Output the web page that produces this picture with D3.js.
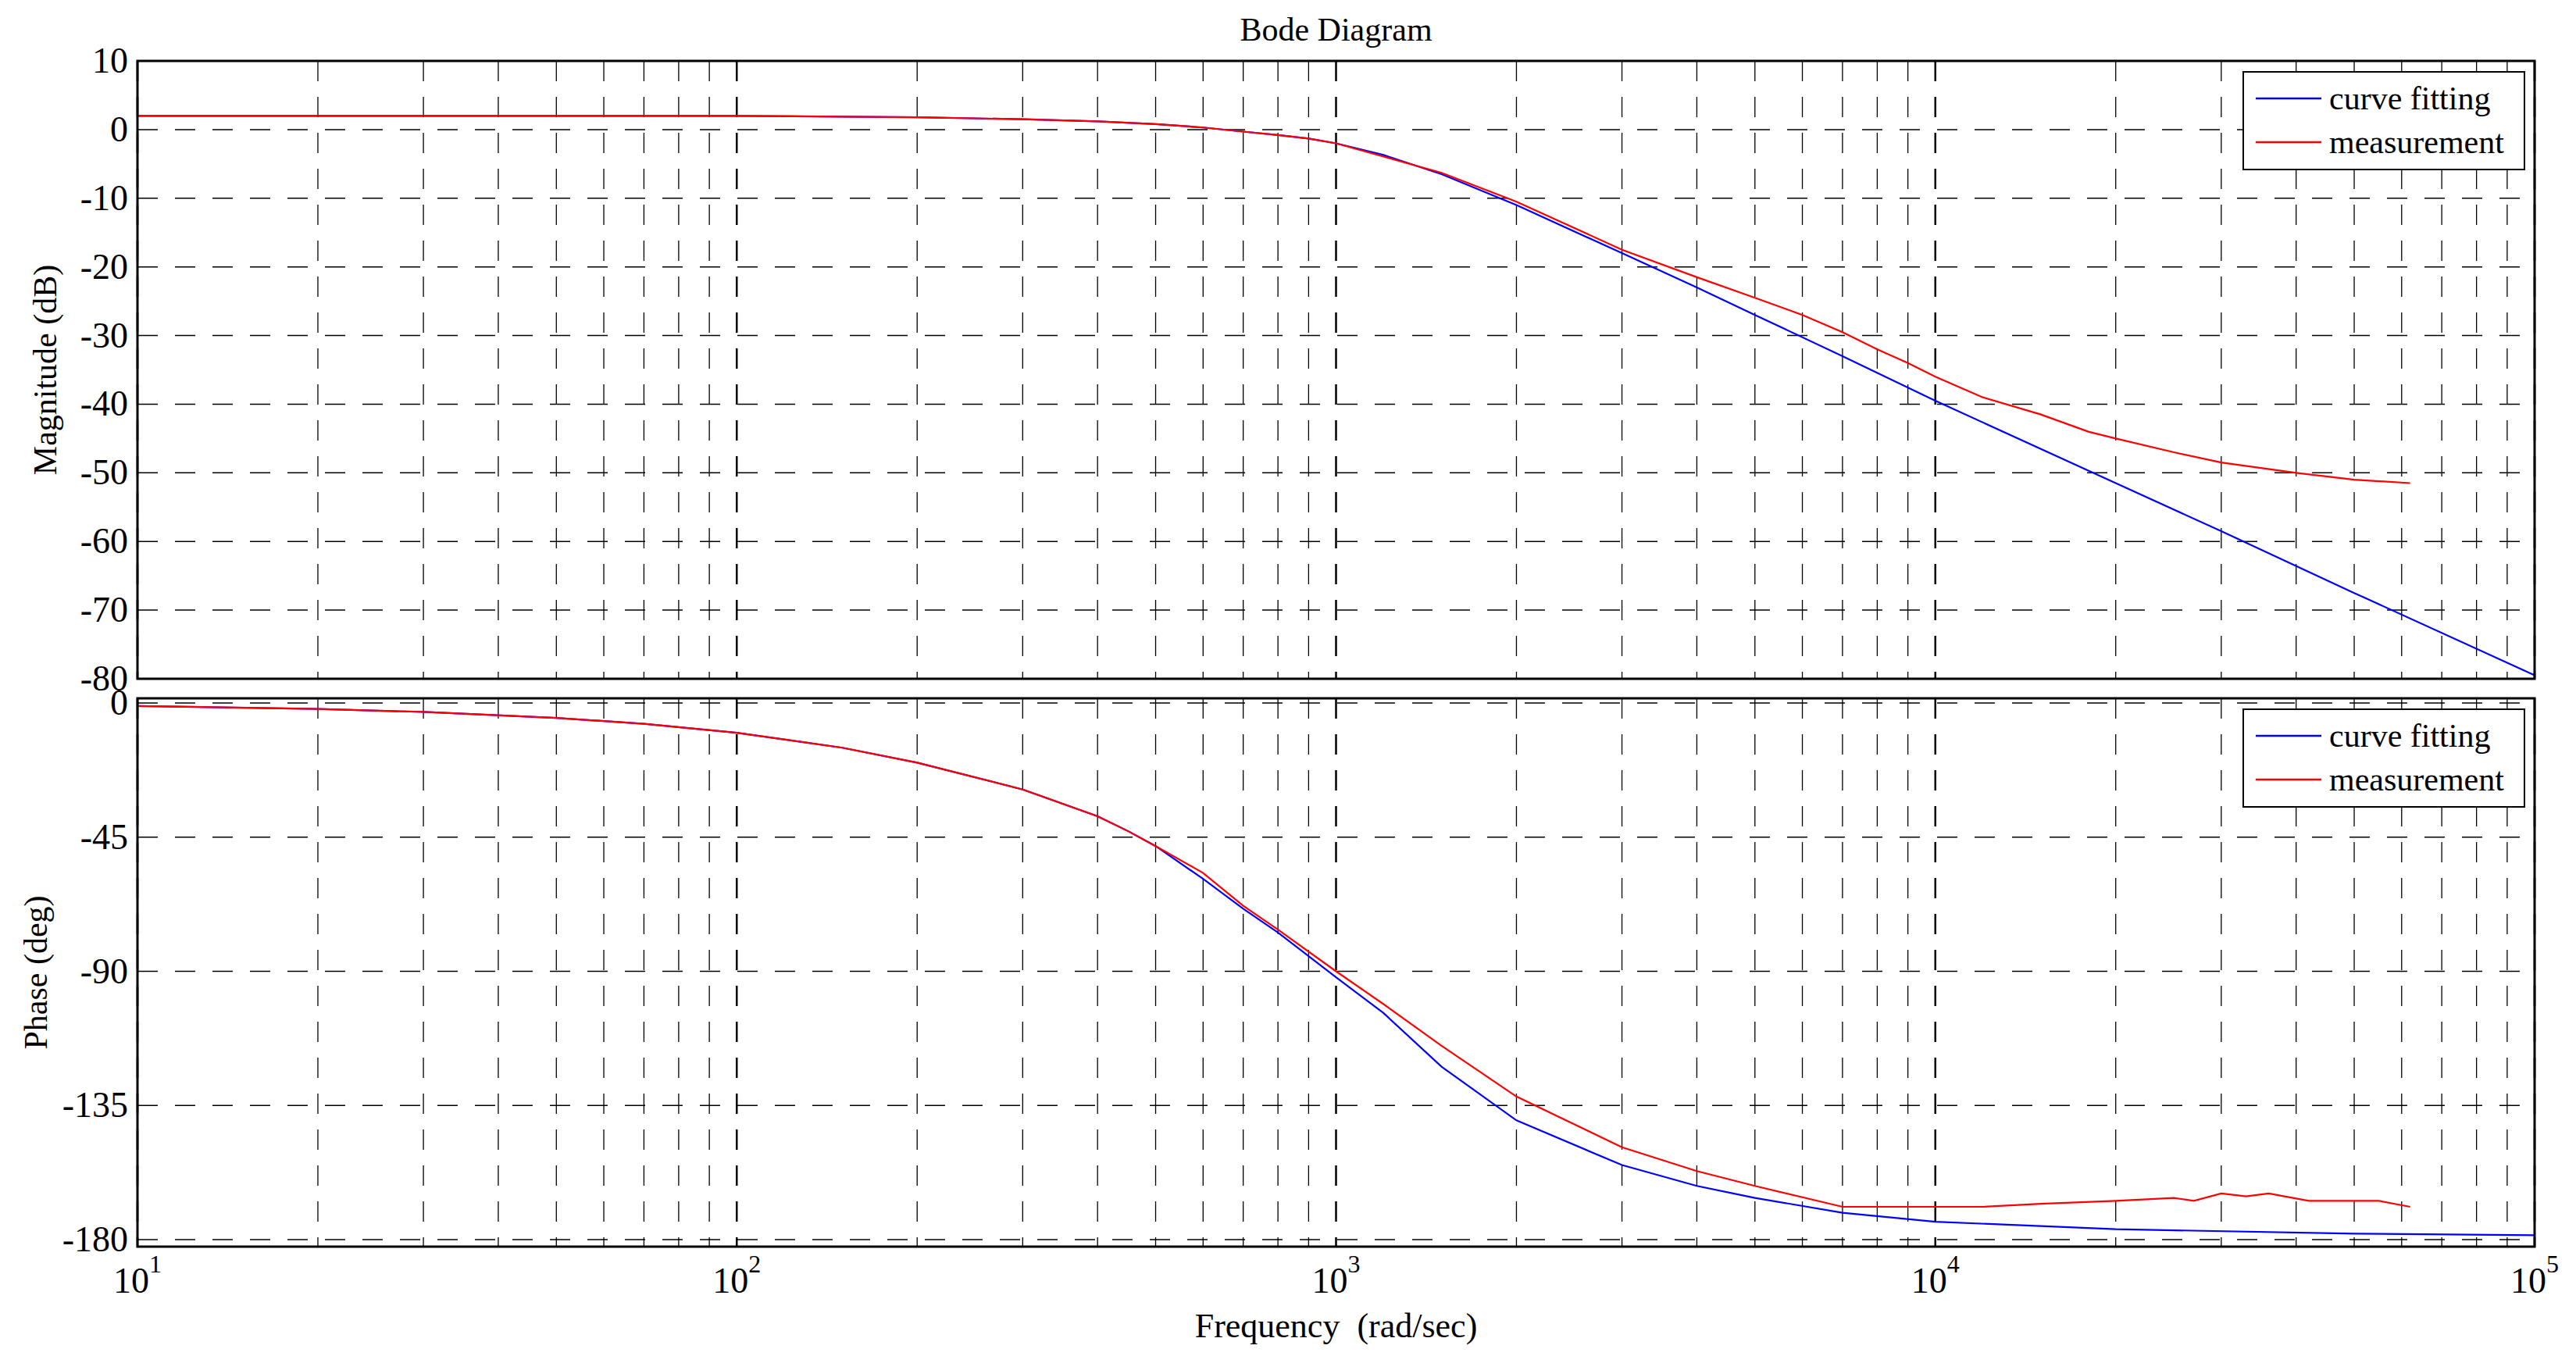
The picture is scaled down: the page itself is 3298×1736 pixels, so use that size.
<!DOCTYPE html>
<html><head><meta charset="utf-8">
<script src="https://cdn.jsdelivr.net/npm/d3@7"></script>
<style>body{margin:0;background:#fff}svg{font-family:"Liberation Serif","Times New Roman",serif}</style>
</head><body>
<svg id="c" width="3298" height="1736"></svg>
<script>
const magFitF=[10,100,200,300,400,500,600,700,800,900,1000,1200,1500,2000,3000,4000,5000,7000,10000,20000,30000,50000,100000];
const magFitV=[2,2,1.8,1.5,1.2,0.8,0.3,-0.3,-0.8,-1.3,-2,-3.7,-6.5,-11,-18,-23,-27,-33,-39.5,-51.5,-58.5,-67.5,-79.5];
const magMeasF=[10,100,200,300,400,500,600,700,800,900,1000,1500,2000,3000,4000,5000,6000,7000,8000,9000,10000,12000,15000,18000,20000,25000,30000,40000,50000,62000];
const magMeasV=[2,2,1.8,1.5,1.2,0.8,0.3,-0.3,-0.8,-1.3,-2,-6.3,-10.5,-17.5,-21.5,-24.5,-27,-29.5,-32,-34,-36,-39,-41.5,-44,-45,-47,-48.5,-50,-51,-51.5];
const phFitF=[10,20,30,50,70,100,150,200,300,400,450,500,600,700,800,1000,1200,1500,2000,3000,4000,5000,7000,10000,20000,50000,100000];
const phFitV=[-1,-2,-3,-5,-7,-10,-15,-20,-29,-38,-43,-48,-59,-69,-77,-92,-104,-122,-140,-155,-162,-166,-171,-174,-176.5,-178,-178.5];
const phMeasF=[10,20,30,50,70,100,150,200,300,400,450,500,600,700,800,1000,1200,1500,2000,3000,4000,5000,7000,10000,12000,15000,20000,25000,27000,30000,33000,36000,42000,50000,55000,62000];
const phMeasV=[-1,-2,-3,-5,-7,-10,-15,-20,-29,-38,-43,-48,-57,-68,-76,-90,-101,-115,-132,-149,-157,-162,-169,-169,-169,-168,-167,-166,-167,-164.5,-165.5,-164.5,-167,-167,-167,-169];
const magTicks=[10,0,-10,-20,-30,-40,-50,-60,-70,-80];
const phTicks=[0,-45,-90,-135,-180];
const decades=[1,2,3,4,5];
const seriesNames=["curve fitting","measurement"];
const colors=["#0000ff","#ff0000"];

const svg=d3.select("#c");
const L=176,R=3245;
const x=d3.scaleLog().domain([10,1e5]).range([L,R]);
const yM=d3.scaleLinear().domain([10,-80]).range([78,869]);
const yP=d3.scaleLinear().domain([0,-180]).range([900,1587]);
const panels=[{y:yM,top:78,bot:869,ticks:magTicks,label:"Magnitude (dB)",data:[[magFitF,magFitV],[magMeasF,magMeasV]]},
 {y:yP,top:894,bot:1596,ticks:phTicks,label:"Phase (deg)",data:[[phFitF,phFitV],[phMeasF,phMeasV]]}];
const minors=[];for(let d=1;d<5;d++)for(let k=2;k<=9;k++)minors.push(k*Math.pow(10,d));
panels.forEach((p,pi)=>{
  const g=svg.append("g");
  g.selectAll(".mn").data(minors).enter().append("line").attr("x1",d=>x(d)).attr("x2",d=>x(d)).attr("y1",p.top).attr("y2",p.bot)
   .attr("stroke","#000").attr("stroke-width",1.3).attr("stroke-dasharray","26,20");
  g.selectAll(".mj").data(decades.map(d=>Math.pow(10,d))).enter().append("line").attr("x1",d=>x(d)).attr("x2",d=>x(d)).attr("y1",p.top).attr("y2",p.bot)
   .attr("stroke","#000").attr("stroke-width",2.5).attr("stroke-dasharray","26,20");
  g.selectAll(".hg").data(p.ticks).enter().append("line").attr("x1",L).attr("x2",R).attr("y1",d=>p.y(d)).attr("y2",d=>p.y(d))
   .attr("stroke","#000").attr("stroke-width",1.5).attr("stroke-dasharray","26,22");
  // ticks on axes
  g.selectAll(".tk").data(p.ticks).enter().append("text").attr("x",L-12).attr("y",d=>p.y(d)+15).attr("text-anchor","end")
   .attr("font-size",46).text(d=>d);
  const line=d3.line().x(d=>x(d[0])).y(d=>p.y(d[1]));
  p.data.forEach((s,i)=>{
    g.append("path").datum(s[0].map((f,j)=>[f,s[1][j]])).attr("d",line).attr("fill","none").attr("stroke",colors[i]).attr("stroke-width",2.2);
  });
  g.append("rect").attr("x",L).attr("y",p.top).attr("width",R-L).attr("height",p.bot-p.top).attr("fill","none").attr("stroke","#000").attr("stroke-width",3);
  g.append("text").attr("transform",`translate(${pi==0?72:60},${(p.top+p.bot)/2}) rotate(-90)`).attr("text-anchor","middle").attr("font-size",42).text(p.label);
  // legend
  const lx=2872,ly=p.top+14;
  g.append("rect").attr("x",lx).attr("y",ly).attr("width",360).attr("height",125).attr("fill","#fff").attr("stroke","#000").attr("stroke-width",2);
  seriesNames.forEach((n,i)=>{
    const yy=ly+34+i*56;
    g.append("line").attr("x1",lx+16).attr("x2",lx+100).attr("y1",yy).attr("y2",yy).attr("stroke",colors[i]).attr("stroke-width",2.5);
    g.append("text").attr("x",lx+110).attr("y",yy+14).attr("font-size",42).text(n);
  });
});
// x tick labels
decades.concat([]).forEach(()=>{});
const xt=[1,2,3,4,5];
xt.forEach(d=>{
  const t=svg.append("text").attr("x",x(Math.pow(10,d))).attr("y",1655).attr("text-anchor","middle").attr("font-size",46);
  t.append("tspan").text("10");
  t.append("tspan").attr("dy",-26).attr("font-size",32).text(d);
});
svg.append("text").attr("x",(L+R)/2).attr("y",1712).attr("text-anchor","middle").attr("font-size",44).attr("xml:space","preserve").text("Frequency  (rad/sec)");
svg.append("text").attr("x",(L+R)/2).attr("y",52).attr("text-anchor","middle").attr("font-size",42).text("Bode Diagram");
</script></body></html>
